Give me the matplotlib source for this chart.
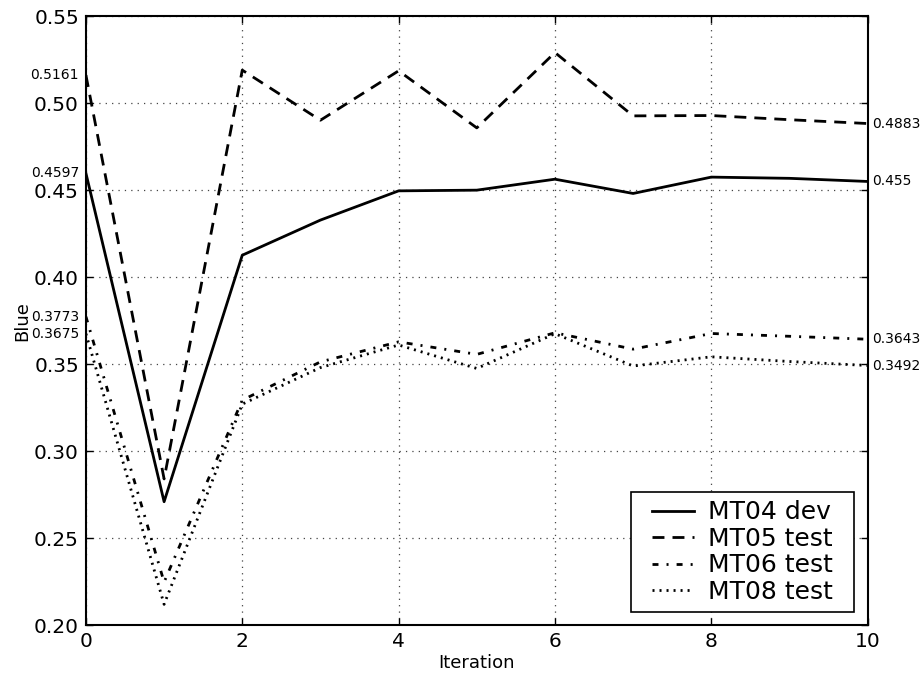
import matplotlib
matplotlib.use("Agg")
import matplotlib.pyplot as plt
from matplotlib.patches import Rectangle
from matplotlib.transforms import IdentityTransform

plt.rcParams["lines.scale_dashes"] = False

iterations = [0, 1, 2, 3, 4, 5, 6, 7, 8, 9, 10]
mt04_dev = [0.4597, 0.2709, 0.4126, 0.4328, 0.4496, 0.4500, 0.4563, 0.4481, 0.4575, 0.4568, 0.4550]
mt05_test = [0.5161, 0.2840, 0.5190, 0.4902, 0.5186, 0.4858, 0.5291, 0.4927, 0.4929, 0.4905, 0.4883]
mt06_test = [0.3773, 0.2247, 0.3293, 0.3513, 0.3628, 0.3556, 0.3680, 0.3586, 0.3676, 0.3660, 0.3643]
mt08_test = [0.3675, 0.2119, 0.3270, 0.3480, 0.3610, 0.3475, 0.3675, 0.3489, 0.3542, 0.3515, 0.3492]
series_labels = ["MT04 dev", "MT05 test", "MT06 test", "MT08 test"]
y_ticks = [0.20, 0.25, 0.30, 0.35, 0.40, 0.45, 0.50, 0.55]
x_ticks = [0, 2, 4, 6, 8, 10]

fig = plt.figure(figsize=(9.24, 6.75), dpi=100)
ax = fig.add_axes([0.093, 0.074, 0.846, 0.902])

dash_patterns = [None, (8.6, 5.8), (4.3, 5.8, 1.45, 5.8), (1.45, 3.6)]
all_series = [mt04_dev, mt05_test, mt06_test, mt08_test]
for vals, dp, lab in zip(all_series, dash_patterns, series_labels):
    if dp is None:
        ax.plot(iterations, vals, color="black", linestyle="-", linewidth=2, label=lab)
    else:
        ax.plot(iterations, vals, color="black", linestyle=(0, dp), linewidth=2,
                dash_capstyle="butt", label=lab)

ax.set_xlim(0, 10)
ax.set_ylim(0.20, 0.55)
ax.set_xticks(x_ticks)
ax.set_yticks(y_ticks)
ax.set_xticklabels([str(t) for t in x_ticks])
ax.set_yticklabels(["%.2f" % t for t in y_ticks])
ax.tick_params(direction="in", length=5, width=1, labelsize=14.5, top=True, right=True, pad=5)
ax.grid(True, color="#444444", linestyle=(0, (0.9, 3.7)), linewidth=0.9)
for s in ax.spines.values():
    s.set_linewidth(1.5)

ax.set_xlabel("Iteration", fontsize=13, labelpad=2)
ax.set_ylabel("Blue", fontsize=13, labelpad=2)

# value annotations at both ends
for vals in all_series:
    v0 = vals[0]
    ax.annotate("%g" % v0, xy=(iterations[0], v0), xytext=(-5, 0), textcoords="offset points",
                ha="right", va="center", fontsize=10, annotation_clip=False)
    v1 = vals[-1]
    ax.annotate("%g" % v1, xy=(iterations[-1], v1), xytext=(3, 0), textcoords="offset points",
                ha="left", va="center", fontsize=10, annotation_clip=False)

leg = ax.legend(loc="lower right", bbox_to_anchor=(0.966, 0.0214), fontsize=18, frameon=False,
                numpoints=1, handlelength=1.68, labelspacing=0.1, borderpad=0.33,
                borderaxespad=0.0, handletextpad=0.56)
leg.set_zorder(6)

fig.canvas.draw()
bb = leg.get_window_extent(fig.canvas.get_renderer())
extra = 13
rect = Rectangle((bb.x0 - extra, bb.y0), bb.width + 2 * extra, bb.height,
                 transform=IdentityTransform(), facecolor="white", edgecolor="black",
                 linewidth=1.2, zorder=5, clip_on=False)
ax.add_artist(rect)

fig.savefig("out.png", dpi=100)
